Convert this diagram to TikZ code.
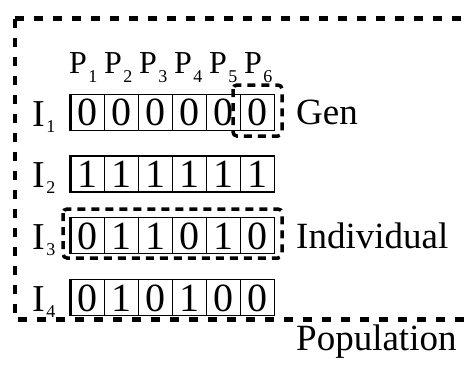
\documentclass[tikz,border=0pt]{standalone}
\usepackage{fontspec}
\setmainfont{Liberation Serif}
\newcommand{\lblsub}[2]{\hspace{1.5pt}\raisebox{-#1}{\fontsize{18}{18}\selectfont #2}}
\begin{document}
\begin{tikzpicture}[x=1pt,y=-1pt,
  cell/.style={draw, line width=1.3pt, minimum width=34pt, minimum height=36pt,
    inner sep=0pt, text height=30pt, text depth=2.5pt, anchor=north west,
    font=\fontsize{40}{40}\selectfont},
  collabel/.style={inner sep=0pt, anchor=base west, font=\fontsize{32}{32}\selectfont},
  rowlabel/.style={inner sep=0pt, anchor=base west, font=\fontsize{38}{38}\selectfont},
  caption/.style={inner sep=0pt, anchor=base west, font=\fontsize{37}{37}\selectfont},
  outerdash/.style={line width=4.5pt, dash pattern=on 9pt off 10pt},
  groupdash/.style={line width=3.5pt, dash pattern=on 8pt off 6pt, rounded corners=4pt}]
\useasboundingbox (0,0) rectangle (464,365);

% population frame, running off the right edge
\begin{scope}
  \clip (0,0) rectangle (464,365);
  \draw[outerdash] (15,18.5) -- (490,18.5);
  \draw[outerdash] (15,18.5) -- (15,319.5) -- (490,319.5);
\end{scope}

% column headers P_1 ... P_6
\foreach \k in {1,...,6}
  \node[collabel] (p\k) at ({69+35*(\k-1)},73) {P\lblsub{9pt}{\k}};

% chromosomes I_1 ... I_4
\foreach \r/\bits in {1/{0,0,0,0,0,0},2/{1,1,1,1,1,1},3/{0,1,1,0,1,0},4/{0,1,0,1,0,0}} {
  \pgfmathsetmacro{\top}{93.5+61.8*(\r-1)}
  \node[rowlabel] (i\r) at (32,\top+32.5) {I\lblsub{6pt}{\r}};
  \foreach \b [count=\k] in \bits
    \node[cell] (c\r-\k) at ({70+34*(\k-1)},\top) {\b};
  \draw[line width=3pt] (c\r-1.north west) -- (c\r-1.south west);
}

% gene and individual highlights
\draw[groupdash] (233,85) rectangle (282,136);
\draw[groupdash] (63,209) rectangle (282,258);

\node[caption] (gen) at (296,124) {Gen};
\node[caption] (ind) at (296,248) {Individual};
\node[caption] (pop) at (296,350) {Population};
\end{tikzpicture}
\end{document}
